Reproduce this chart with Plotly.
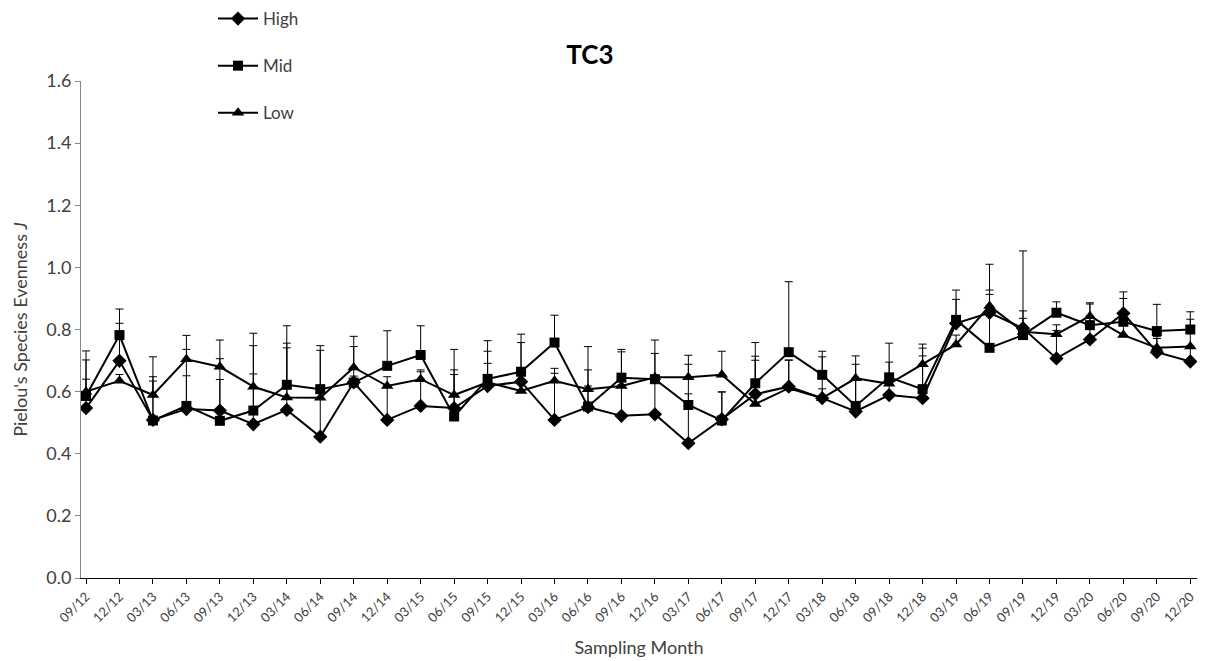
import plotly.graph_objects as go

months = ["09/12","12/12","03/13","06/13","09/13","12/13","03/14","06/14","09/14","12/14",
          "03/15","06/15","09/15","12/15","03/16","06/16","09/16","12/16","03/17","06/17",
          "09/17","12/17","03/18","06/18","09/18","12/18","03/19","06/19","09/19","12/19",
          "03/20","06/20","09/20","12/20"]

high = [0.547,0.699,0.509,0.544,0.539,0.495,0.541,0.455,0.630,0.509,
        0.554,0.547,0.618,0.632,0.509,0.550,0.522,0.527,0.434,0.511,
        0.592,0.616,0.579,0.536,0.589,0.579,0.820,0.854,0.804,0.707,
        0.768,0.852,0.727,0.697]
high_err = [0.155,0.121,0.125,0.107,0.100,0.162,0.200,0.145,0.020,0.110,
            0.110,0.108,0.073,0.126,0.150,0.068,0.100,0.100,0.159,0.088,
            0.122,0.086,0.133,0.100,0.050,0.136,0.077,0.073,0.056,0.090,
            0.070,0.069,0.050,0.050]

mid = [0.586,0.782,0.507,0.554,0.506,0.539,0.622,0.608,0.629,0.683,
       0.718,0.520,0.641,0.664,0.758,0.552,0.645,0.640,0.557,0.507,
       0.627,0.727,0.654,0.554,0.646,0.608,0.831,0.741,0.782,0.854,
       0.814,0.825,0.795,0.800]
mid_err = [0.145,0.084,0.141,0.182,0.200,0.209,0.190,0.140,0.116,0.113,
           0.094,0.150,0.123,0.121,0.088,0.118,0.091,0.126,0.131,0.092,
           0.131,0.227,0.076,0.134,0.110,0.132,0.096,0.172,0.271,0.035,
           0.068,0.075,0.086,0.057]

low = [0.600,0.635,0.589,0.704,0.680,0.616,0.581,0.580,0.678,0.618,
       0.640,0.589,0.630,0.602,0.635,0.608,0.618,0.646,0.646,0.654,
       0.560,0.611,0.579,0.643,0.625,0.688,0.752,0.876,0.793,0.785,
       0.843,0.782,0.741,0.745]
low_err = [0.040,0.020,0.123,0.077,0.086,0.172,0.175,0.153,0.100,0.030,
           0.030,0.147,0.100,0.030,0.040,0.137,0.110,0.077,0.071,0.076,
           0.141,0.090,0.030,0.072,0.070,0.065,0.030,0.134,0.043,0.030,
           0.043,0.030,0.030,0.088]

series = [("High", high, high_err, "diamond", 11),
          ("Mid", mid, mid_err, "square", 10),
          ("Low", low, low_err, "triangle-up", 11)]

FONT = "Lato, 'Liberation Sans', sans-serif"
TXT = "#404040"

# page body adds an 8px offset; figure coordinates below compensate for it
W, H = 1195, 650
L, T, PW, PH = 73, 73, 1116, 497

fig = go.Figure()
for i, (name, vals, errs, sym, sz) in enumerate(series):
    fig.add_trace(go.Scatter(
        x=months, y=vals, name=name, mode="lines+markers",
        line=dict(color="black", width=2),
        marker=dict(symbol=sym, size=sz, color="black"),
        error_y=dict(type="data", symmetric=False, array=errs,
                     arrayminus=[0]*len(errs), color="black",
                     thickness=1, width=4),
        legendgroup=name,
    ))

fig.update_layout(
    width=W, height=H,
    margin=dict(l=L, r=W-L-PW, t=T, b=H-T-PH, autoexpand=False),
    paper_bgcolor="white", plot_bgcolor="white",
    font=dict(family=FONT, color=TXT, size=18),
    title=dict(text="<b>TC3</b>", x=582/W, xref="container", xanchor="center",
               y=1-47/H, yref="container", yanchor="middle",
               font=dict(size=26, family=FONT, color="black")),
    showlegend=True,
    legend=dict(x=(205-L)/PW, xanchor="left", y=1+(T+7)/PH, yref="paper",
                yanchor="top", bgcolor="rgba(0,0,0,0)",
                font=dict(size=17, family=FONT, color=TXT), tracegroupgap=22,
                itemwidth=40),
    xaxis=dict(
        type="category", range=[-0.15, 33.2],
        tickangle=-45, tickfont=dict(size=13, family=FONT, color=TXT),
        ticks="outside", ticklen=5, tickcolor="black",
        showline=True, linecolor="black", linewidth=1,
        showgrid=False, zeroline=False,
        title=dict(text="Sampling Month", font=dict(size=18, family=FONT, color=TXT), standoff=17),
    ),
    yaxis=dict(
        range=[0, 1.6], dtick=0.2, tickformat=".1f",
        ticks="outside", ticklen=5, tickcolor="#868686",
        showline=True, linecolor="#868686", linewidth=1,
        showgrid=False, zeroline=False,
        tickfont=dict(size=18, family=FONT, color=TXT),
        title=dict(text="Pielou's Species Evenness <i>J</i>",
                   font=dict(size=18, family=FONT, color=TXT), standoff=13),
    ),
)

fig.write_html("out.html")
